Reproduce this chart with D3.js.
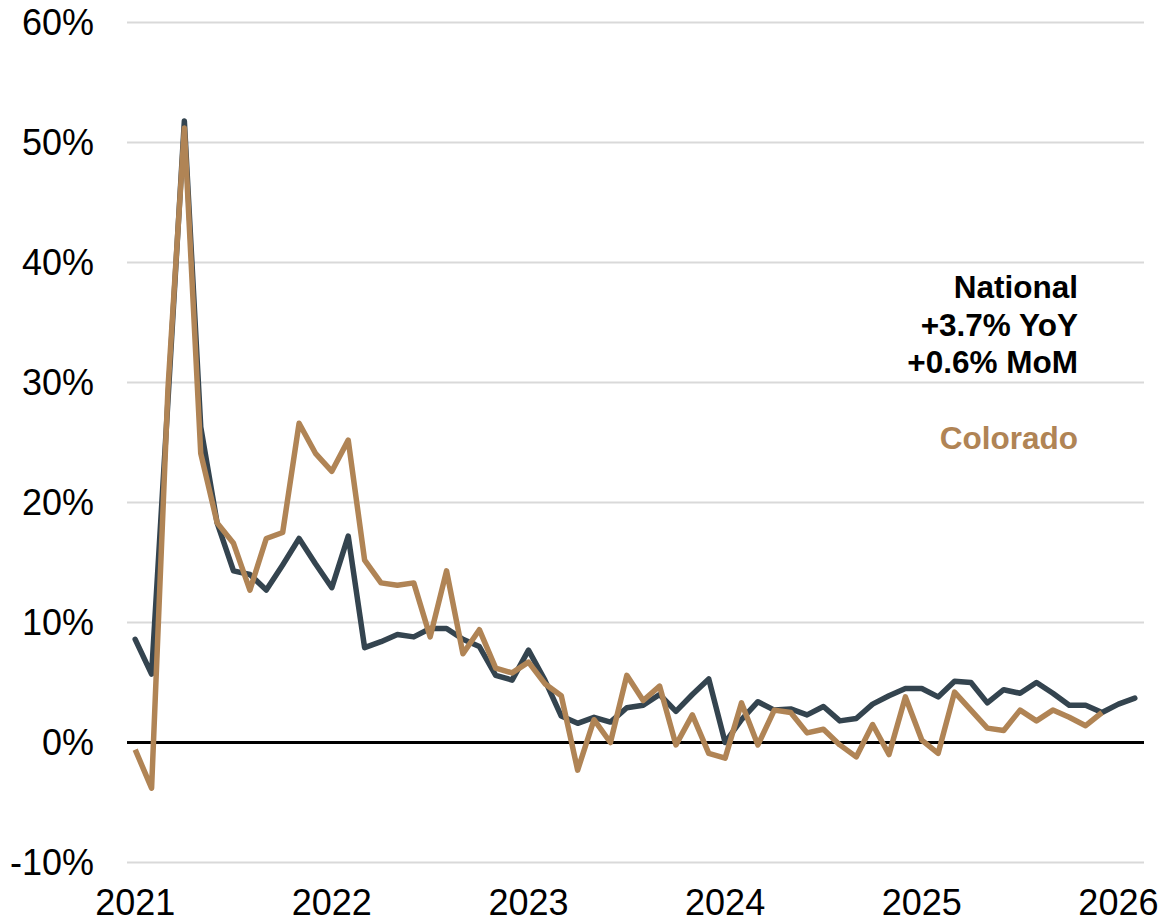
<!DOCTYPE html>
<html>
<head>
<meta charset="utf-8">
<script src="https://cdn.jsdelivr.net/npm/d3@7"></script>
<style>
  html, body { margin: 0; padding: 0; background: #ffffff; }
  svg { display: block; font-family: "Liberation Sans", Arial, sans-serif; }
</style>
</head>
<body>
<svg id="chart" width="1165" height="923"></svg>
<script>
const months = [
  "2021-01","2021-02","2021-03","2021-04","2021-05","2021-06","2021-07","2021-08","2021-09","2021-10","2021-11","2021-12",
  "2022-01","2022-02","2022-03","2022-04","2022-05","2022-06","2022-07","2022-08","2022-09","2022-10","2022-11","2022-12",
  "2023-01","2023-02","2023-03","2023-04","2023-05","2023-06","2023-07","2023-08","2023-09","2023-10","2023-11","2023-12",
  "2024-01","2024-02","2024-03","2024-04","2024-05","2024-06","2024-07","2024-08","2024-09","2024-10","2024-11","2024-12",
  "2025-01","2025-02","2025-03","2025-04","2025-05","2025-06","2025-07","2025-08","2025-09","2025-10","2025-11","2025-12",
  "2026-01","2026-02"
];

const national = [
  8.6, 5.7, 28.5, 51.8, 26.3, 18.3, 14.3, 14.0, 12.7, 14.8, 17.0, 14.9,
  12.9, 17.2, 7.9, 8.4, 9.0, 8.8, 9.5, 9.5, 8.6, 8.0, 5.6, 5.2,
  7.7, 5.2, 2.2, 1.6, 2.1, 1.7, 2.9, 3.1, 4.0, 2.6, 4.0, 5.3,
  0.0, 1.9, 3.4, 2.7, 2.8, 2.3, 3.0, 1.8, 2.0, 3.2, 3.9, 4.5,
  4.5, 3.8, 5.1, 5.0, 3.3, 4.4, 4.1, 5.0, 4.1, 3.1, 3.1, 2.5,
  3.2, 3.7
];

const colorado = [
  -0.6, -3.8, 29.5, 51.2, 24.1, 18.3, 16.6, 12.7, 17.0, 17.5, 26.6, 24.1,
  22.6, 25.2, 15.2, 13.3, 13.1, 13.3, 8.8, 14.3, 7.4, 9.4, 6.2, 5.8,
  6.7, 4.9, 3.9, -2.3, 1.9, 0.0, 5.6, 3.5, 4.7, -0.2, 2.3, -0.9,
  -1.3, 3.3, -0.2, 2.7, 2.5, 0.8, 1.1, -0.2, -1.2, 1.5, -1.0, 3.8,
  0.2, -0.9, 4.2, 2.7, 1.2, 1.0, 2.7, 1.8, 2.7, 2.1, 1.4, 2.5
];

const yTicks = [-10, 0, 10, 20, 30, 40, 50, 60];
const yearLabels = ["2021", "2022", "2023", "2024", "2025", "2026"];
const yearMonths = ["2021-01", "2022-01", "2023-01", "2024-01", "2025-01", "2026-01"];
const annotationNational = ["National", "+3.7% YoY", "+0.6% MoM"];
const annotationColorado = "Colorado";

const colNational = "#34444f";
const colColorado = "#b08455";

const svg = d3.select("#chart");
const plotLeft = 127, plotRight = 1143, plotTop = 22.5, plotBottom = 862.5;

const x = d3.scaleLinear().domain([-0.5, months.length - 0.5]).range([plotLeft, plotRight]);
const y = d3.scaleLinear().domain([-10, 60]).range([plotBottom, plotTop]);

// gridlines
svg.append("g").selectAll("line").data(yTicks.filter(d => d !== 0)).join("line")
  .attr("x1", plotLeft).attr("x2", plotRight + 1)
  .attr("y1", d => y(d)).attr("y2", d => y(d))
  .attr("stroke", "#d9d9d9").attr("stroke-width", 2);

// y labels
svg.append("g").selectAll("text").data(yTicks).join("text")
  .attr("x", 94).attr("y", d => y(d))
  .attr("dy", "0.36em")
  .attr("text-anchor", "end")
  .attr("font-size", 36)
  .attr("fill", "#000")
  .text(d => d + "%");

// x labels
svg.append("g").selectAll("text").data(yearLabels).join("text")
  .attr("x", (d, i) => x(months.indexOf(yearMonths[i])))
  .attr("y", 915)
  .attr("text-anchor", "middle")
  .attr("font-size", 36)
  .attr("fill", "#000")
  .text(d => d);

// zero line
svg.append("line")
  .attr("x1", plotLeft).attr("x2", plotRight + 1)
  .attr("y1", y(0)).attr("y2", y(0))
  .attr("stroke", "#000").attr("stroke-width", 3);

const line = d3.line().x((d, i) => x(i)).y(d => y(d));

svg.append("path").datum(national)
  .attr("d", line)
  .attr("fill", "none").attr("stroke", colNational)
  .attr("stroke-width", 5.5).attr("stroke-linejoin", "round").attr("stroke-linecap", "round");

svg.append("path").datum(colorado)
  .attr("d", line)
  .attr("fill", "none").attr("stroke", colColorado)
  .attr("stroke-width", 5.5).attr("stroke-linejoin", "round").attr("stroke-linecap", "butt");

// annotations
const ann = svg.append("g").attr("font-weight", "bold").attr("font-size", 31.5).attr("text-anchor", "end");
ann.selectAll("text.nat").data(annotationNational).join("text")
  .attr("class", "nat")
  .attr("x", 1078).attr("y", (d, i) => 298 + i * 37.7)
  .attr("fill", "#000")
  .text(d => d);
ann.append("text")
  .attr("x", 1078).attr("y", 448.5)
  .attr("fill", colColorado)
  .text(annotationColorado);
</script>
</body>
</html>
